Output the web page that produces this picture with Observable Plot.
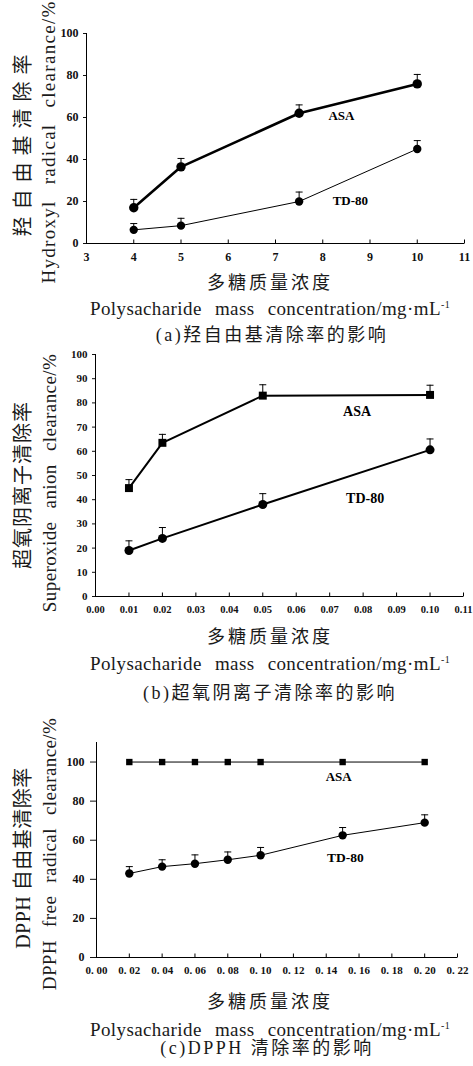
<!DOCTYPE html>
<html><head><meta charset="utf-8">
<script src="https://cdn.jsdelivr.net/npm/d3@7"></script>
<script src="https://cdn.jsdelivr.net/npm/@observablehq/plot@0.6"></script>
<style>
body{margin:0;background:#fff;}
#root{position:relative;width:473px;height:1066px;overflow:hidden;background:#fff;}
.abs{position:absolute;white-space:nowrap;line-height:1;color:#1a1a1a;font-family:"Liberation Serif","Noto Sans CJK SC",serif;}
.cap{transform:translate(-50%,-50%);}
.rot{transform:translate(-50%,-50%) rotate(-90deg);}
.svgwrap{position:absolute;left:0;}
</style>
</head><body>
<div id="root"></div>
<script>
// ---- Panel (a): hydroxyl radical ----
const xA = [4, 5, 7.5, 10];
const asaA = [17, 36.5, 62, 76];
const asaAErr = [4, 4, 4, 4.5];
const tdA = [6.5, 8.5, 20, 45];
const tdAErr = [3, 3.5, 4.5, 4];
const xTicksA = [3, 4, 5, 6, 7, 8, 9, 10, 11];
const yTicksA = [0, 20, 40, 60, 80, 100];

// ---- Panel (b): superoxide anion ----
const xB = [0.01, 0.02, 0.05, 0.10];
const asaB = [44.8, 63.5, 83, 83.3];
const asaBErr = [3.5, 3.5, 4.5, 4];
const tdB = [19, 24, 38, 60.6];
const tdBErr = [4, 4.5, 4.5, 4.5];
const xTicksB = [0, 0.01, 0.02, 0.03, 0.04, 0.05, 0.06, 0.07, 0.08, 0.09, 0.10, 0.11];
const yTicksB = [0, 10, 20, 30, 40, 50, 60, 70, 80, 90, 100];

// ---- Panel (c): DPPH ----
const xC = [0.02, 0.04, 0.06, 0.08, 0.10, 0.15, 0.20];
const asaC = [100, 100, 100, 100, 100, 100, 100];
const tdC = [43, 46.5, 48, 50, 52.3, 62.5, 69];
const tdCErr = [3.5, 3.5, 4.5, 4, 4, 4, 4];
const xTicksC = [0, 0.02, 0.04, 0.06, 0.08, 0.10, 0.12, 0.14, 0.16, 0.18, 0.20, 0.22];
const yTicksC = [0, 20, 40, 60, 80, 100];

// ---- Texts ----
const xTitleCN = "多糖质量浓度";
const xTitleEN = "Polysacharide mass concentration/mg·mL";
const captions = ["(a)羟自由基清除率的影响", "(b)超氧阴离子清除率的影响", "(c)DPPH 清除率的影响"];
const yTitlesCN = ["羟自由基清除率", "超氧阴离子清除率", "DPPH 自由基清除率"];
const yTitlesEN = ["Hydroxyl radical clearance/%", "Superoxide anion clearance/%", "DPPH free radical clearance/%"];
const seriesNames = ["ASA", "TD-80"];

const root = document.getElementById("root");

const capSym = {draw(ctx){ ctx.moveTo(-3.5, 0); ctx.lineTo(3.5, 0); }};
const tickUp = {draw(ctx){ ctx.moveTo(0, 0); ctx.lineTo(0, -4); }};

function rows(xs, ys, es) {
  return xs.map((x, i) => ({x, y: ys[i], e: es ? es[i] : 0}));
}

function seriesMarks(data, {symbol, r, sw, errors}) {
  const m = [Plot.line(data, {x: "x", y: "y", stroke: "black", strokeWidth: sw})];
  if (errors) {
    m.push(Plot.ruleX(data, {x: "x", y1: "y", y2: d => d.y + d.e, stroke: "black", strokeWidth: 1}));
    m.push(Plot.dot(data, {x: "x", y: d => d.y + d.e, symbol: capSym, stroke: "black", strokeWidth: 1, r: 1}));
  }
  m.push(Plot.dot(data, {x: "x", y: "y", symbol, r, fill: "black", stroke: "none"}));
  return m;
}

function panel(cfg) {
  const marks = [
    Plot.ruleY([cfg.yDomain[0]], {stroke: "black", strokeWidth: 1}),
    Plot.ruleX([cfg.xDomain[0]], {stroke: "black", strokeWidth: 1}),
    Plot.axisY({ticks: cfg.yTicks, tickSize: cfg.yTickSize, tickPadding: cfg.yTickPad, label: null, fontSize: cfg.yFont}),
    Plot.axisX({ticks: cfg.xTicks, tickSize: 0, tickPadding: 9, label: null, tickFormat: cfg.xFmt, fontSize: cfg.xFont}),
    Plot.dot(cfg.xTicks.slice(1), {x: d => d, y: () => cfg.yDomain[0], symbol: tickUp, stroke: "black", strokeWidth: 1, r: 1}),
    ...seriesMarks(cfg.asa, cfg.asaStyle),
    ...seriesMarks(cfg.td, cfg.tdStyle),
    Plot.text(cfg.labels, {x: "x", y: "y", text: "t", textAnchor: "start", lineAnchor: "middle",
      fontSize: "s", fontWeight: "bold", fill: "black"})
  ];
  const svg = Plot.plot({
    width: 473, height: cfg.height,
    marginTop: cfg.mt, marginBottom: cfg.mb, marginLeft: cfg.ml, marginRight: cfg.mr,
    x: {domain: cfg.xDomain, label: null},
    y: {domain: cfg.yDomain, label: null},
    style: {fontFamily: "'Liberation Serif', serif", fontWeight: "bold", fontSize: "12px", color: "#111", background: "transparent"},
    marks
  });
  const w = document.createElement("div");
  w.className = "svgwrap";
  w.style.top = cfg.top + "px";
  w.appendChild(svg);
  root.appendChild(w);
}

function txt(html, x, y, cls, style) {
  const d = document.createElement("div");
  d.className = "abs " + cls;
  d.style.left = x + "px";
  d.style.top = y + "px";
  Object.assign(d.style, style);
  d.innerHTML = html;
  root.appendChild(d);
}

const enStyle = {fontSize: "19px", letterSpacing: "0.4px", wordSpacing: "8px"};
const cnCapStyle = {fontSize: "18px", letterSpacing: "3px"};
const capStyle = {fontSize: "18px", letterSpacing: "2.5px"};
const xEN = xTitleEN + "<sup style='font-size:10px;vertical-align:7px;line-height:0'>-1</sup>";

// Panel (a)
panel({
  top: 0, height: 270, mt: 33, mb: 27, ml: 86, mr: 9,
  xDomain: [3, 11], yDomain: [0, 100], xTicks: xTicksA, yTicks: yTicksA,
  xFmt: d => String(d), yTickSize: 3, yTickPad: 5, yFont: 12, xFont: 12,
  asa: rows(xA, asaA, asaAErr), td: rows(xA, tdA, tdAErr),
  asaStyle: {symbol: "circle", r: 4.7, sw: 2.6, errors: true},
  tdStyle: {symbol: "circle", r: 4.2, sw: 1, errors: true},
  labels: [{t: seriesNames[0], x: 8.12, y: 61, s: 13}, {t: seriesNames[1], x: 8.21, y: 20.5, s: 13}]
});
txt(yTitlesCN[0], 23, 142, "rot", {fontSize: "20px", letterSpacing: "7px"});
txt(yTitlesEN[0], 48, 142, "rot", {fontSize: "19px", letterSpacing: "1.3px", wordSpacing: "10px"});
txt(xTitleCN, 270, 283, "cap", cnCapStyle);
txt(xEN, 270, 308, "cap", enStyle);
txt(captions[0], 272, 335, "cap", capStyle);

// Panel (b)
panel({
  top: 340, height: 285, mt: 14, mb: 29, ml: 95, mr: 10,
  xDomain: [0, 0.11], yDomain: [0, 100], xTicks: xTicksB, yTicks: yTicksB,
  xFmt: d => d.toFixed(2), yTickSize: 3, yTickPad: 5, yFont: 11, xFont: 10.5,
  asa: rows(xB, asaB, asaBErr), td: rows(xB, tdB, tdBErr),
  asaStyle: {symbol: "square", r: 4.5, sw: 2, errors: true},
  tdStyle: {symbol: "circle", r: 4.5, sw: 2, errors: true},
  labels: [{t: seriesNames[0], x: 0.074, y: 76.4, s: 14}, {t: seriesNames[1], x: 0.0749, y: 40.5, s: 14}]
});
txt(yTitlesCN[1], 23, 485, "rot", {fontSize: "20px", letterSpacing: "1px"});
txt(yTitlesEN[1], 49, 483, "rot", enStyle);
txt(xTitleCN, 270, 637, "cap", cnCapStyle);
txt(xEN, 270, 663, "cap", enStyle);
txt(captions[1], 270, 693, "cap", capStyle);

// Panel (c)
panel({
  top: 730, height: 255, mt: 12, mb: 28, ml: 96, mr: 16,
  xDomain: [0, 0.22], yDomain: [0, 110], xTicks: xTicksC, yTicks: yTicksC,
  xFmt: d => d.toFixed(2).replace(".", ". "), yTickSize: 6, yTickPad: 6, yFont: 12, xFont: 11,
  asa: rows(xC, asaC, null), td: rows(xC, tdC, tdCErr),
  asaStyle: {symbol: "square", r: 3.6, sw: 1, errors: false},
  tdStyle: {symbol: "circle", r: 4.2, sw: 1, errors: true},
  labels: [{t: seriesNames[0], x: 0.1397, y: 92.3, s: 13}, {t: seriesNames[1], x: 0.1404, y: 51.1, s: 13.5}]
});
txt(yTitlesCN[2], 23, 858, "rot", {fontSize: "20px", letterSpacing: "0.5px"});
txt(yTitlesEN[2], 49, 854, "rot", enStyle);
txt(xTitleCN, 270, 1002, "cap", cnCapStyle);
txt(xEN, 270, 1029, "cap", enStyle);
txt(captions[2], 267, 1048, "cap", capStyle);
</script>
</body></html>
